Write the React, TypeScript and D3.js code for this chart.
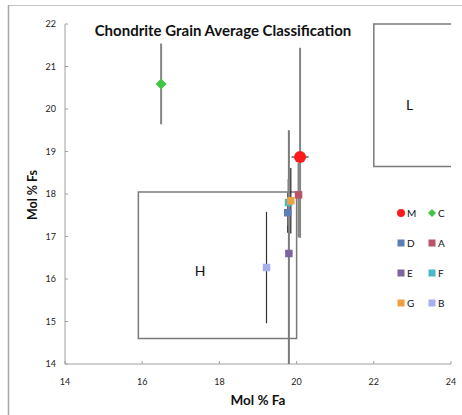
import React from 'react';
import * as d3 from 'd3';

// series
const names = ['M', 'C', 'D', 'A', 'E', 'F', 'G', 'B'];
const fa = [20.09, 16.49, 19.77, 20.05, 19.8, 19.79, 19.85, 19.22];
const fs = [18.87, 20.59, 17.56, 17.98, 16.6, 17.8, 17.84, 16.27];
const fsErrUp = [2.57, 0.95, 0.47, 0.75, 2.9, 0.55, 0.77, 1.31];
const fsErrDown = [1.9, 0.95, 0.47, 1.0, 2.9, 0.55, 0.77, 1.31];
const faErr = [0.22, 0, 0, 0, 0, 0, 0, 0];
const colors = ['#ff1a1a', '#44c444', '#5b7db8', '#b85468', '#7d649e', '#4bb8c8', '#f0a040', '#a6aeee'];
const errColors = ['#858585', '#858585', '#222', '#858585', '#7a7a7a', '#858585', '#222', '#333'];
const shapes = ['circle', 'diamond', 'square', 'square', 'square', 'square', 'square', 'square'];

const xTicks = [14, 16, 18, 20, 22, 24];
const yTicks = [14, 15, 16, 17, 18, 19, 20, 21, 22];

// classification regions
const hBox = { x0: 15.9, x1: 20, y0: 14.6, y1: 18.05 };
const lBox = { x0: 22, x1: 24, y0: 18.65, y1: 22 };

const W = 462, H = 415;
const x = d3.scaleLinear().domain([14, 24]).range([65, 451]);
const y = d3.scaleLinear().domain([14, 22]).range([364, 24]);

const font = 'Lato, "Liberation Sans", sans-serif';

function Marker({ shape, cx, cy, s, fill }: { shape: string; cx: number; cy: number; s: number; fill: string }) {
  if (shape === 'circle') return <circle cx={cx} cy={cy} r={s / 2} fill={fill} />;
  if (shape === 'diamond') {
    const h = s / 2;
    return <path d={`M${cx},${cy - h}L${cx + h},${cy}L${cx},${cy + h}L${cx - h},${cy}Z`} fill={fill} />;
  }
  return <rect x={cx - s / 2} y={cy - s / 2} width={s} height={s} fill={fill} />;
}

export default function App() {
  const axisColor = '#a0a0a0';
  return (
    <svg width={W} height={H} style={{ position: 'absolute', left: 0, top: 0, background: '#fff' }}
      fontFamily={font}>
      <rect x={8.5} y={5.5} width={600} height={600} fill="none" stroke="#c4c4c4" strokeWidth={1} />
      <line x1={8.5} x2={8.5} y1={5} y2={H} stroke="#a8a8a8" strokeWidth={1.5} />

      {/* axes */}
      <line x1={x(14)} x2={x(14)} y1={y(22)} y2={y(14)} stroke={axisColor} />
      <line x1={x(14)} x2={x(24)} y1={y(14)} y2={y(14)} stroke={axisColor} />
      {xTicks.map(t => (
        <g key={'x' + t}>
          <line x1={x(t)} x2={x(t)} y1={y(14)} y2={y(14) - 3} stroke={axisColor} />
          <text x={x(t)} y={y(14) + 21} fontSize={9} textAnchor="middle" fill="#222">{t}</text>
        </g>
      ))}
      {yTicks.map(t => (
        <g key={'y' + t}>
          <line x1={x(14)} x2={x(14) + 3} y1={y(t)} y2={y(t)} stroke={axisColor} />
          <text x={x(14) - 9} y={y(t) + 3} fontSize={9} textAnchor="end" fill="#222">{t}</text>
        </g>
      ))}

      {/* region boxes */}
      <path d={`M${x(hBox.x0)},${y(hBox.y1)}H${x(hBox.x1)}V${y(hBox.y0)}H${x(hBox.x0)}Z`}
        fill="none" stroke="#7a7a7a" strokeWidth={1.5} />
      <path d={`M${x(lBox.x1)},${y(lBox.y1)}H${x(lBox.x0)}V${y(lBox.y0)}H${x(lBox.x1)}`}
        fill="none" stroke="#7a7a7a" strokeWidth={1.5} />
      <text x={x(17.5)} y={y(16.2) + 5} fontSize={14} textAnchor="middle" fill="#111">H</text>
      <text x={x(22.93)} y={y(20.1) + 5} fontSize={14} textAnchor="middle" fill="#111">L</text>

      {/* error bars */}
      {names.map((n, i) => (
        <g key={'e' + n}>
          <line x1={x(fa[i])} x2={x(fa[i])} y1={y(fs[i] + fsErrUp[i])} y2={y(Math.max(14, fs[i] - fsErrDown[i]))}
            stroke={errColors[i]} strokeWidth={errColors[i] === '#222' || errColors[i] === '#333' ? 1.2 : 2} />
          {faErr[i] > 0 && (
            <line x1={x(fa[i] - faErr[i])} x2={x(fa[i] + faErr[i])} y1={y(fs[i])} y2={y(fs[i])}
              stroke={errColors[i]} strokeWidth={2} />
          )}
        </g>
      ))}

      {/* points */}
      {names.map((n, i) => (
        <Marker key={'p' + n} shape={shapes[i]} cx={x(fa[i])} cy={y(fs[i])}
          s={shapes[i] === 'circle' ? 12 : shapes[i] === 'diamond' ? 11 : 7.5} fill={colors[i]} />
      ))}

      {/* legend */}
      {names.map((n, i) => {
        const lx = 401 + (i % 2) * 31;
        const ly = 213 + Math.floor(i / 2) * 30;
        return (
          <g key={'l' + n}>
            <Marker shape={shapes[i]} cx={lx} cy={ly} s={shapes[i] === 'square' ? 7 : 8} fill={colors[i]} />
            <text x={lx + 6} y={ly + 4} fontSize={10} fill="#111">{n}</text>
          </g>
        );
      })}

      {/* titles */}
      <text x={223} y={36} fontSize={15} fontWeight="bold" textAnchor="middle" fill="#111">
        Chondrite Grain Average Classification
      </text>
      <text x={258} y={405} fontSize={13.5} fontWeight="bold" textAnchor="middle" fill="#111">Mol % Fa</text>
      <text transform={`translate(37,195) rotate(-90)`} fontSize={12.5} fontWeight="bold" textAnchor="middle" fill="#111">
        Mol % Fs
      </text>
    </svg>
  );
}
